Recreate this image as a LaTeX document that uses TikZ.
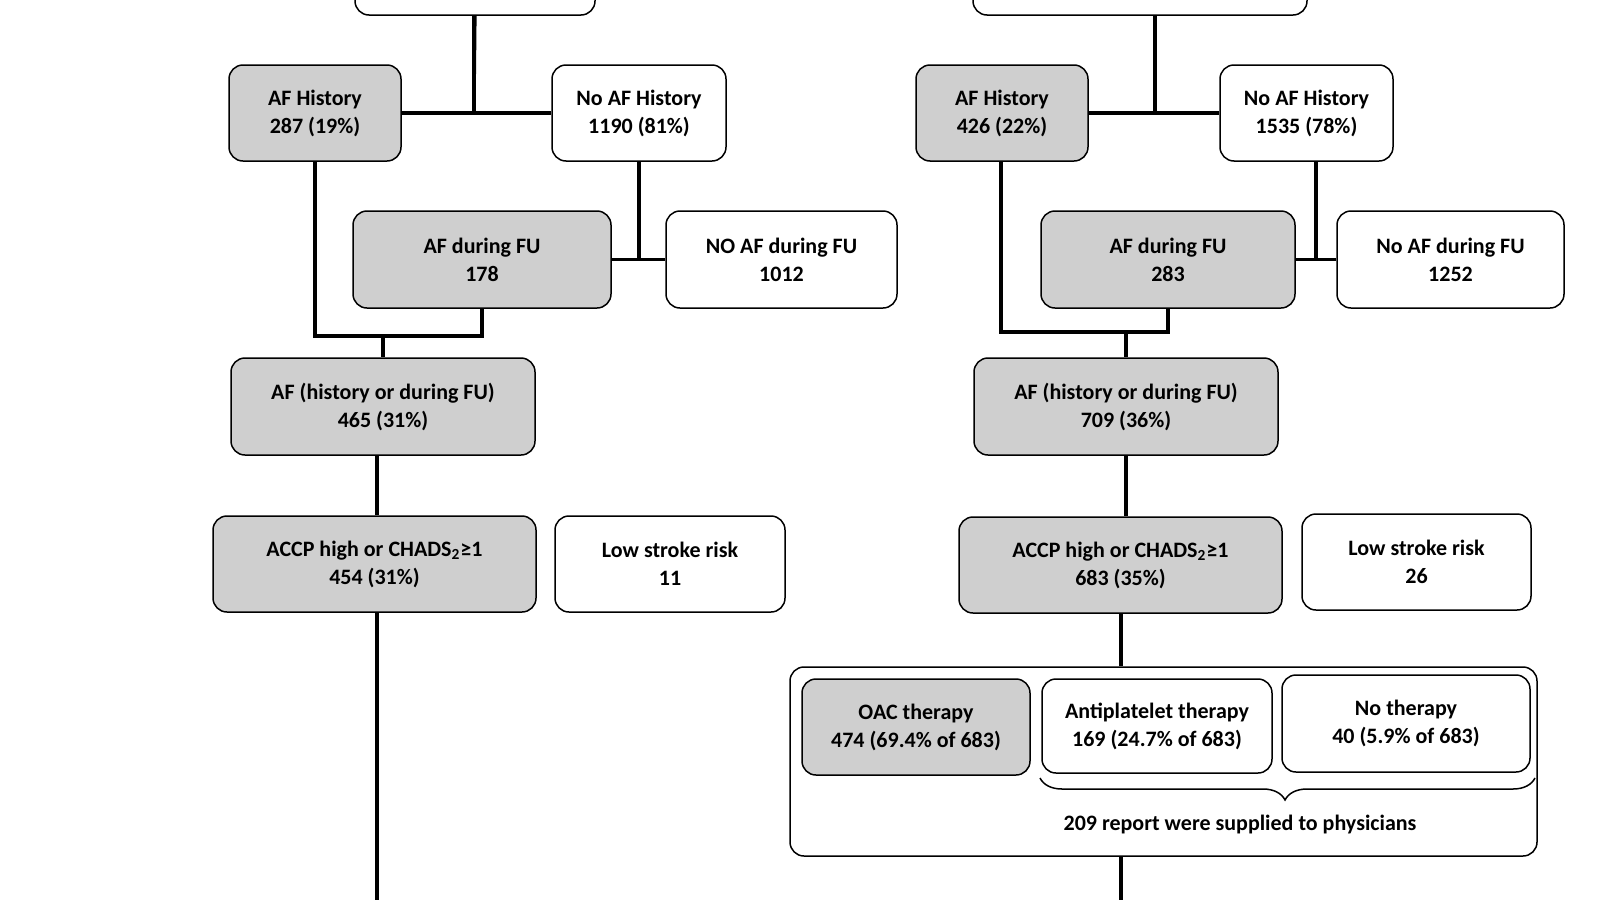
\documentclass[tikz,border=0pt]{standalone}
\usepackage{fontspec}
\setmainfont{Carlito}
\usetikzlibrary{decorations.pathreplacing}
\tikzset{
  bx/.style={draw, line width=0.75pt, rounded corners=7pt, align=center, inner sep=0pt, font=\bfseries\fontsize{11}{14}\selectfont},
  gr/.style={bx, fill=gray!38},
  wh/.style={bx, fill=white},
  ln/.style={line width=1.6pt}
}
\newcommand{\bxx}[7]{%
  \pgfmathsetmacro{\bcx}{(#2+#4)/2}\pgfmathsetmacro{\bcy}{(#3+#5)/2}%
  \pgfmathsetmacro{\bw}{(#4-#2)*0.5}\pgfmathsetmacro{\bh}{(#5-#3)*0.5}%
  \node[#6, minimum width=\bw pt, minimum height=\bh pt] (#1) at (\bcx,\bcy) {#7};}
\begin{document}
\begin{tikzpicture}[x=0.5pt,y=-0.5pt]
\useasboundingbox (0,0) rectangle (1600,900);
\begin{scope}
\clip (0,0) rectangle (1600,900);
% connectors left
\coordinate (ltop) at (474,0);
\coordinate (lbot) at (377,900);
\coordinate (rtop) at (1155,0);
\coordinate (rbot) at (1121,900);
\draw[ln] (ltop) -- (474,112) coordinate (lj1);
\bxx{tl}{355}{-40}{595}{15}{wh}{}
\bxx{tr}{973}{-40}{1307}{15}{wh}{}
\bxx{ahL}{229}{65}{401}{161}{gr}{AF History\\287 (19\%)}
\bxx{nahL}{552}{65}{726}{161}{wh}{No AF History\\1190 (81\%)}
\bxx{afuL}{353}{211}{611}{308}{gr}{AF during FU\\178}
\bxx{nafuL}{666}{211}{897}{308}{wh}{NO AF during FU\\1012}
\bxx{ahdL}{231}{358}{535}{455}{gr}{AF (history or during FU)\\465 (31\%)}
\bxx{accL}{213}{516}{536}{612}{gr}{ACCP high or CHADS\textsubscript{2}≥1\\454 (31\%)}
\bxx{lowL}{555}{516}{785}{612}{wh}{Low stroke risk\\11}
\bxx{ahR}{916}{65}{1088}{161}{gr}{AF History\\426 (22\%)}
\bxx{nahR}{1220}{65}{1393}{161}{wh}{No AF History\\1535 (78\%)}
\bxx{afuR}{1041}{211}{1295}{308}{gr}{AF during FU\\283}
\bxx{nafuR}{1337}{211}{1564}{308}{wh}{No AF during FU\\1252}
\bxx{ahdR}{974}{358}{1278}{455}{gr}{AF (history or during FU)\\709 (36\%)}
\bxx{accR}{959}{517}{1282}{613}{gr}{ACCP high or CHADS\textsubscript{2}≥1\\683 (35\%)}
\bxx{lowR}{1302}{514}{1531}{610}{wh}{Low stroke risk\\26}
\bxx{big}{790}{667}{1537}{856}{wh}{}
\bxx{oac}{802}{679}{1030}{775}{gr}{OAC therapy\\474 (69.4\% of 683)}
\bxx{anti}{1042}{679}{1272}{773}{wh}{Antiplatelet therapy\\169 (24.7\% of 683)}
\bxx{noth}{1282}{675}{1530}{772}{wh}{No therapy\\40 (5.9\% of 683)}
\node[font=\bfseries\fontsize{11}{14}\selectfont] (rep) at (1240,824) {209 report were supplied to physicians};
\draw[line width=0.75pt, decorate, decoration={brace, amplitude=11pt, mirror, aspect=0.495}] (1040,778) -- (1535,778);
% left lines
\draw[ln] (tl.south) -- (lj1);
\draw[ln] (ahL.east) -- (nahL.west);
\draw[ln] (ahL.south -| 315,0) -- (315,336) coordinate (lj2) -- (482,336) coordinate (lj3) -- (afuL.south -| 482,0);
\draw[ln] (nahL.south -| 639,0) -- (639,260) coordinate (lj4);
\draw[ln] (afuL.east) -- (nafuL.west);
\draw[ln] (383,336) -- (ahdL.north -| 383,0);
\draw[ln] (ahdL.south -| 377,0) -- (accL.north -| 377,0);
\draw[ln] (accL.south -| 377,0) -- (lbot);
% right lines
\draw[ln] (tr.south -| rtop) -- (1155,112);
\draw[ln] (ahR.east) -- (nahR.west);
\draw[ln] (ahR.south -| 1001,0) -- (1001,332) -- (1168,332) -- (afuR.south -| 1168,0);
\draw[ln] (nahR.south -| 1316,0) -- (1316,260);
\draw[ln] (afuR.east) -- (nafuR.west);
\draw[ln] (1126,332) -- (ahdR.north -| 1126,0);
\draw[ln] (ahdR.south -| 1126,0) -- (accR.north -| 1126,0);
\draw[ln] (accR.south -| 1121,0) -- (big.north -| 1121,0);
\draw[ln] (big.south -| 1121,0) -- (rbot);
\end{scope}
\end{tikzpicture}
\end{document}
